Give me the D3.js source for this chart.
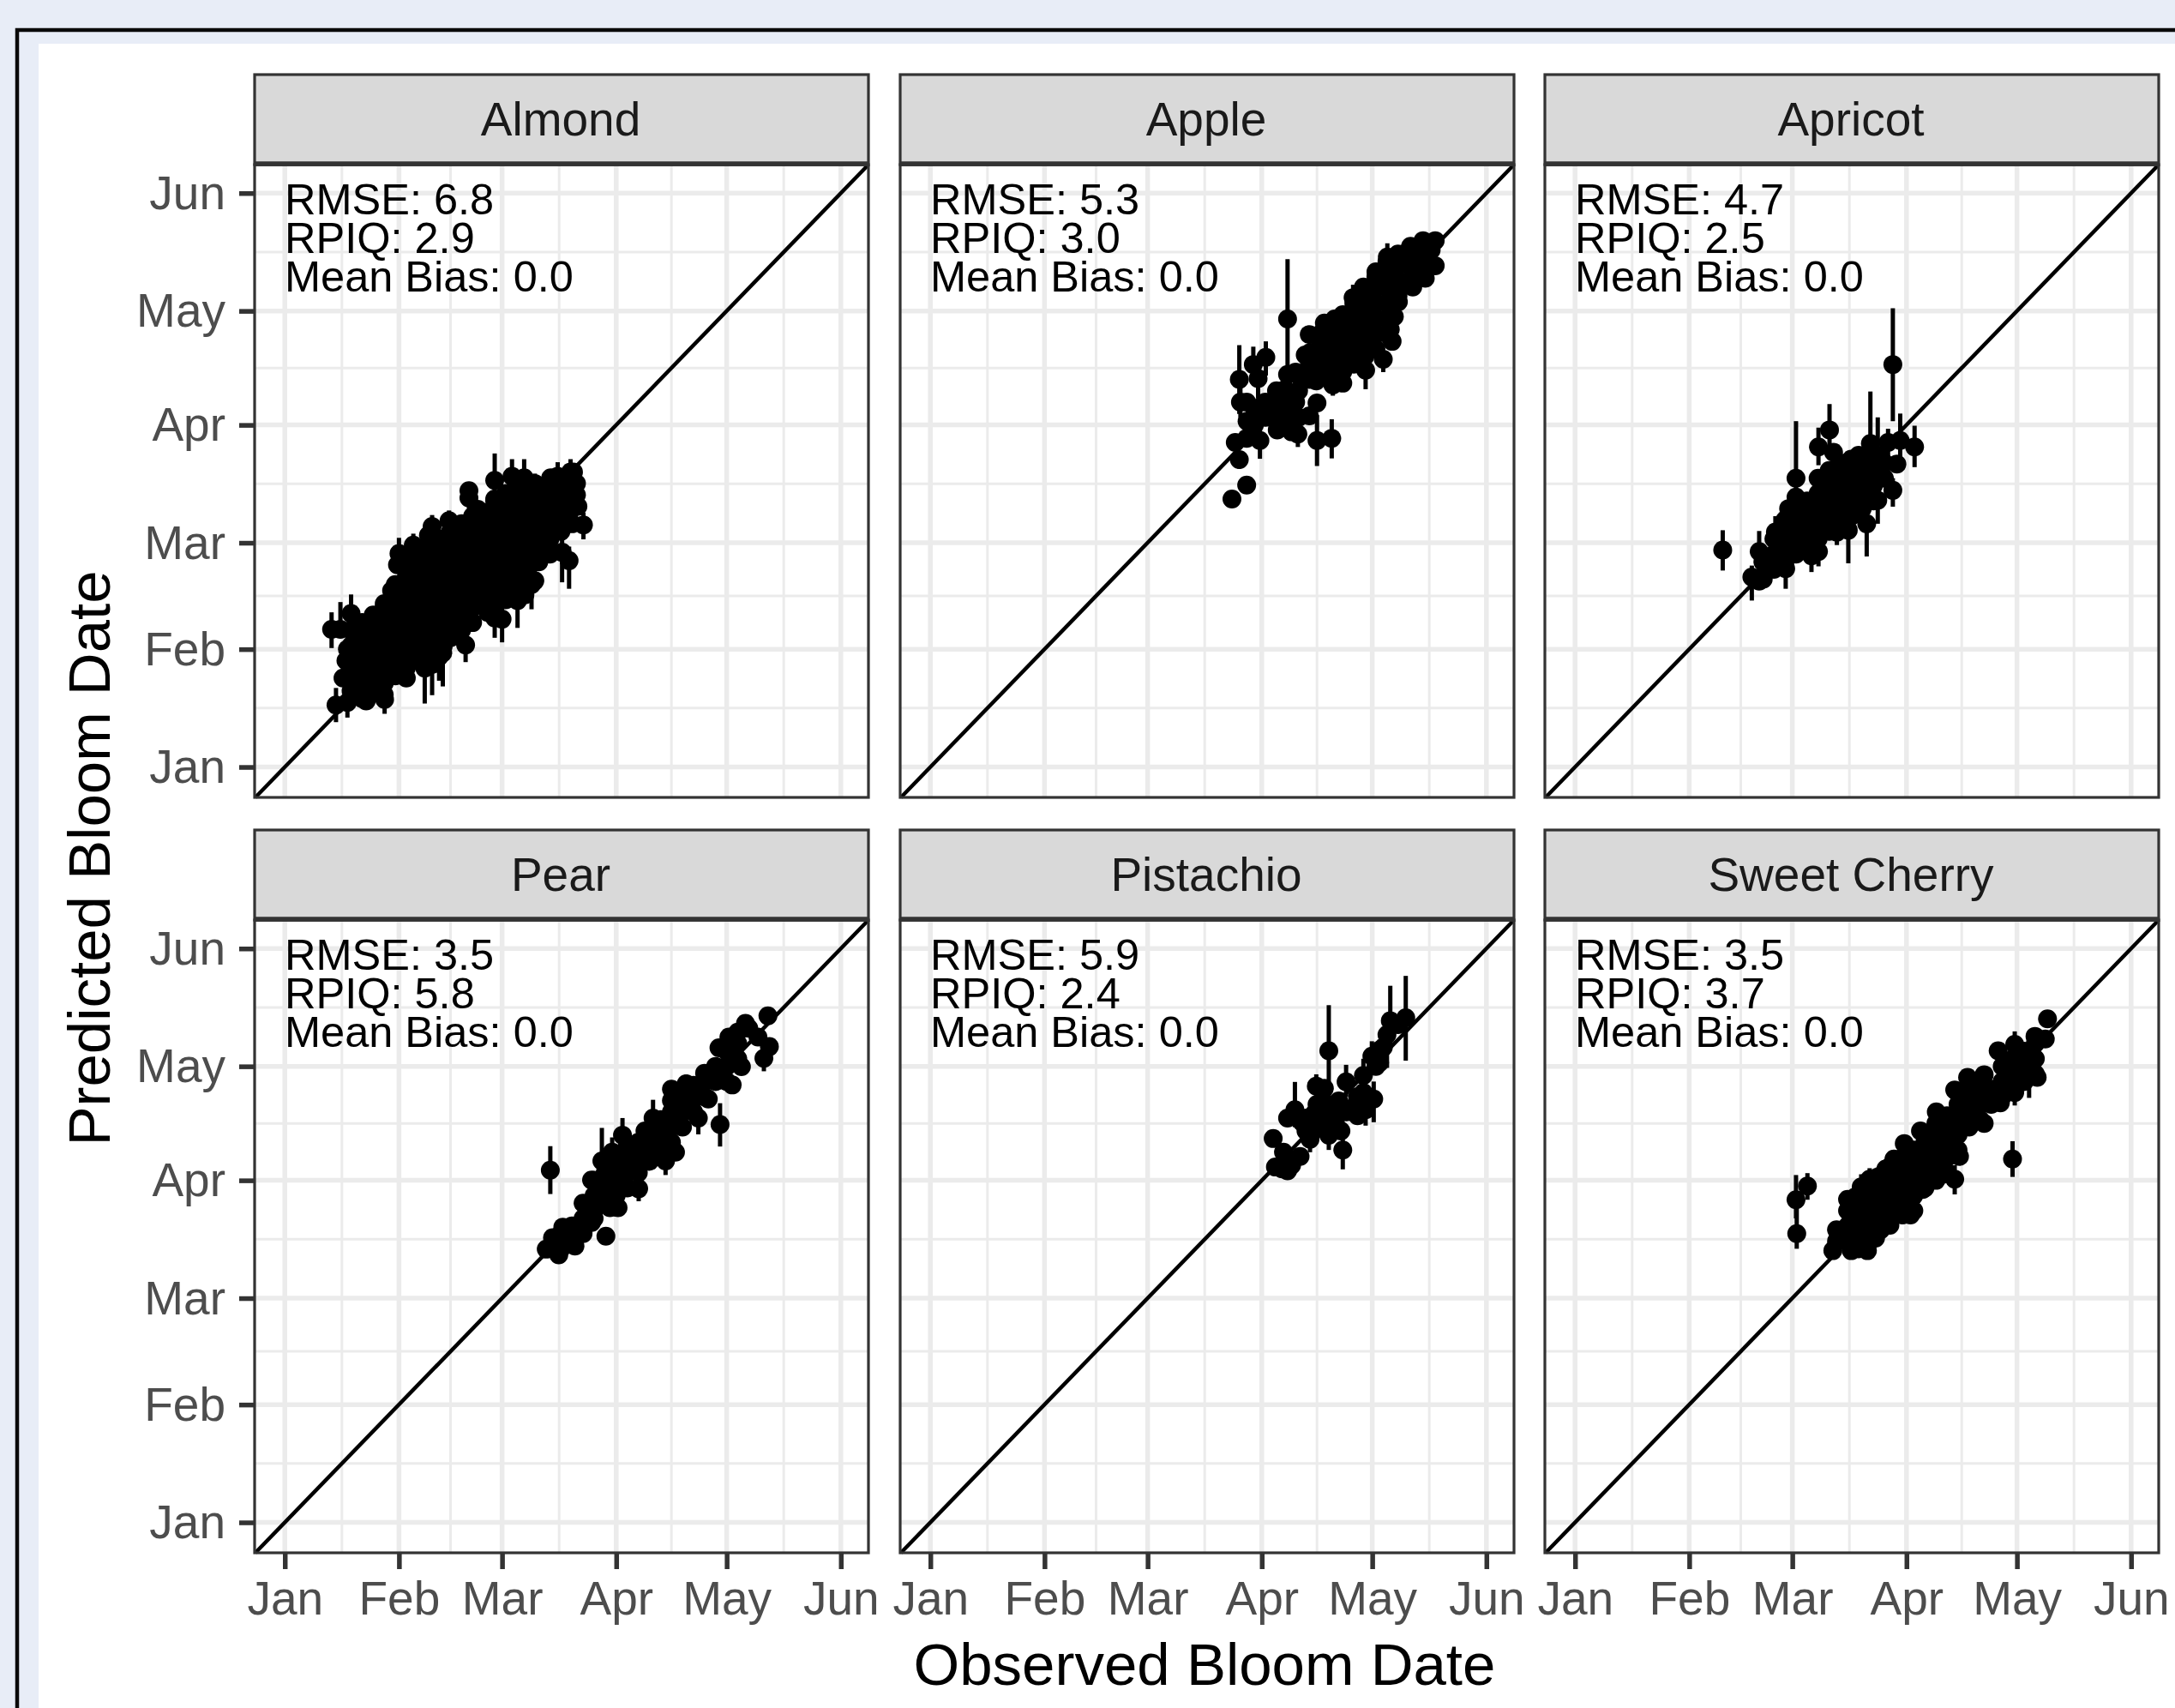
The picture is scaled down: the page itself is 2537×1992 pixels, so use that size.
<!DOCTYPE html>
<html>
<head>
<meta charset="utf-8">
<script src="https://cdnjs.cloudflare.com/ajax/libs/d3/7.8.5/d3.min.js"></script>
<style>
    html, body { margin: 0; padding: 0; background: #e8edf7; }
    svg { display: block; }
    text { font-family: "Liberation Sans", Arial, sans-serif; }
</style>
</head>
<body>
<script>
// months, as days since 1 Jan
var monthNames = ["Jan", "Feb", "Mar", "Apr", "May", "Jun"];
var monthDays = [0, 31, 59, 90, 120, 151];
var minorDays = [15.5, 45, 74.5, 105, 135.5];

var cropNames = ["Almond", "Apple", "Apricot", "Pear", "Pistachio", "Sweet Cherry"];
var rmseLabels = ["6.8", "5.3", "4.7", "3.5", "5.9", "3.5"];
var rpiqLabels = ["2.9", "3.0", "2.5", "5.8", "2.4", "3.7"];
var biasLabels = ["0.0", "0.0", "0.0", "0.0", "0.0", "0.0"];

// each row: observed, predicted, interval low, interval high (days since 1 Jan)
// these are the points that can be told apart at the edge of each cloud
var almond = [
    [12.7,36.2,31.3,40.7],[15.1,36.2,34.3,43.4],[18,40.4,34.3,45.4],[13.9,16.3,11.8,20.8],[17,17,13,21],[15.8,23.4],[17,31],[16.6,28],
    [22.1,17.4],[27.1,17.8,14,21],[33,23.4],[38,26,16.7,36],[40,27,18.9,34],[42.9,30,21.2,38],[41.9,29,22.7,36],
    [31,56.2,52,60.3],[30.6,53.2],[34.9,58.4,54,61.4],[40,63.3,59,66.3],[44.6,64.8,61,67.5],[50,72.7,68,75],[50,70.8],[52.4,67.8],
    [57,75.4,70,82.5],[57,70.5],[57,66.3],[61.7,76.5,72,81],[65,76.1,72,81],[67.9,74.6,70,77.2],[72.2,76.1,72,78.4],[74.1,76.5,72,80.2],
    [77.6,77.6,73,81],[78.4,77.6],[79.2,71.6],[79.2,74.6],[79.6,68.6],[81.1,63.7,59.9,67],[75.3,56.5,48.6,60],[77.2,54.3,46.9,58],
    [70.2,56.5],[67.9,49],[63.2,43.8,36.6,48],[67,48,41.5,52],[65.2,45.3],[59,38.9,32.8,42],[57,39.2,34,43],[55.1,40.7],[50,38.5],
    [49.1,32.1,27.6,36],[43,31.7],[27,43],[29,46.4]
];
var apple = [
    [81.9,70.5],[85.9,74.2],[83.9,80.9,78.5,83],[82.8,85.4],[85.9,86.5],[89.5,85.9,81.1,89.8],[83.9,102,92.9,111],[87.7,105.9,101,110.6],
    [91.1,107.8,103,112],[89,102.2,97,108],[85.9,96],[88.1,92.7],[84.2,96,92,100],[97,117.9,103.9,133.6],[97,103.3],[93.7,96],[92,94.9],
    [94.2,88.7],[98.1,88.2],[99.8,87.6,84.2,91],[102.9,92.4],[105,95.8],[105,85.9,79.2,92.6],[109,86.5,81.2,91.5],[102.9,113.8],
    [101.8,108.4],[99.2,103.9],[99.2,96],[96.4,99.4],[104.8,101.6],[109.3,100.5,97.7,104],[112,101],[118.2,104.4,99.4,108],
    [123,107.3,103.9,110],[125.4,112],[124.9,115.1],[107,116.8],[109.8,117.9,114,120],[114.8,123.5,119,126.9],[117.6,126.3],[121,130.3],
    [124.1,134.2,130,137.8],[130.4,137],[133.8,138.5],[137.1,138.5],[137.1,131.9],[134.4,128.6],[131,126.3],[127.1,122.4],[126,118.5],
    [86,91],[88,90],[90,95],[96,90],[100,92]
];
var apricot = [
    [40.1,57.1,51.7,62.3],[48,50,43.8,53],[50,48.9],[50,56.7,52,62.1],[54.4,61.8,56,66],[58,68],[60,76,70,91],[66.1,84.2,79.4,89.3],
    [69.1,88.7,84,95.5],[70.2,82.8],[80.2,85.1,80,98.8],[82.2,82,64,92],[77,82],[85,85.4,81,89],[88.3,85.9,81,93],[86.3,105.9,91,120.7],
    [92.2,84.2,78.9,89.8],[87.4,79.7],[86.3,72.8,68.5,76],[79.2,64,55.4,69],[82.2,70.2],[74.2,62.3,53.6,66],[71.1,61.8,58.4,65],
    [66.1,56.7,52.8,60],[64.2,55.6,51.3,59],[57.2,52.2,46.9,56],[51.1,49.4]
];
var pear = [
    [72.1,92.7,86.4,99],[71,71.9],[74.4,70.4],[72.7,74.9],[75.5,77.7],[78.8,72.7],[83.3,78.9],[87.2,75.3],[88.3,82.8],[90.5,82.8],
    [96.1,87.8,84.5,91],[103.4,95.1,91.4,99],[106.1,97.4],[83.3,90.1],[86.1,95.1,90,103.8],[88.9,97.4,93,101.3],[91.7,101.9,97,106.4],
    [97.8,103],[100,106.4,102,111.2],[105,114],[109,115.4,111,117.8],[114,118.2],[118.2,104.7,98.9,110.3],[112.3,106.4,102.1,110],[115,111.4],
    [121.5,115.1],[124,119.9],[117.9,124.9],[120.6,127.7],[125.1,131.3],[131.2,133.3],[131.6,125.2],[130.1,122.1,118.7,125],[128.5,127.7]
];
var pistachio = [
    [93.1,101],[93.7,93.5],[95.9,97.4],[98.1,94],[100.4,96.3],[97,106.4],[99,108.6,104,115.9],[100.9,105.3],[103.1,100.8,97.4,105],
    [108.2,101.9,98,106],[104.8,114.8,110,117.9],[107,114.2],[108.2,124.1,114.2,136.1],[112,98,92.9,102],[111.5,103],[110.9,110.9],
    [112.9,115.9,112,120.4],[115.4,109.7],[117.6,117.6,112,122],[120.4,111.4,105.3,116],[118.2,108.6,104.4,112],[106.5,108.6],[108.8,106.4],
    [105.4,104.1],[102,106.4],[104.2,107.5],[110,108.6],[116,112],[117.6,113.1],[119.9,122.7,118,126.6],[122.1,124.3],[124,128.3,119.6,133],
    [124.9,132,125,141.2],[129.1,132.8,121.5,143.8],[127,131],
    [95.5,93],[97,92.5],[102,103],[104,103],[106,105],[108,110],[110,105],[105,110],[113,108],[116,107],[118,112],[121,120],[122,121],[123,125]
];
var sweetCherry = [
    [60,84.9,80,91.4],[60.2,76,72,85],[63.1,88.5,84.9,91.9],[118.8,95.6,90.9,100.3],[70,71.5],[75,71.5],[79.4,71.5],[81.6,74.8],[72.2,75.5],
    [76.1,85.6],[77.7,88.3,84,91.6],[80,90.3,86,93.2],[82.2,90.9,86,93.4],[84.4,93,89,95.6],[86.6,95.6,91,98],[89.4,99.7],[93.8,103],[98.1,108],
    [103.1,113.8],[106.6,117.1],[111.1,117.8],[114.9,124.1],[119.4,125.8,121,129.2],[124.9,127.9],[128.3,132.5],[127.7,127.2],[125.5,117.1],
    [123.8,121.1],[119.4,113.1,109.7,117],[115.5,110.4],[123.3,118,111.7,122],[111.1,105],[104.4,96.3],[103.1,90.3,86.3,94],[100,91.6],
    [94.4,87.6],[91.1,80.9],[88.9,80.9],[85.5,78.2]
];

// inside the clouds the points merge, so only columns are read: observed, then predicted values
var almondInner = [
    [18,[20,24,28,32,36]],[21,[18,22,26,30,34,38]],[24,[20,24,28,32,36,40]],[27,[19,22,26,30,34,38,42]],
    [30,[24,28,32,36,40,44,48]],[33,[26,30,34,38,42,46,50,54]],[36,[28,32,36,40,44,48,52,56]],[39,[30,34,38,42,46,50,54,58,61]],
    [42,[33,36,40,44,48,52,56,60]],[45,[34,38,42,46,50,54,58,62]],[48,[36,40,44,48,52,56,60,64]],[51,[38,42,46,50,54,58,62,66]],
    [54,[44,48,52,56,60,64,67]],[57,[42,46,50,54,58,62,66,70]],[60,[44,48,52,56,60,64,68,72]],[63,[46,50,54,58,62,66,70,74]],
    [66,[49,52,56,60,64,68,72]],[69,[54,58,62,66,70,74]],[72,[56,60,64,68,72]],[75,[62,66,70,74]],[78,[64,68,72,75]]
];
var appleInner = [
    [91,[92,96]],[94,[91,95,99]],[97,[94,98]],[100,[99,103]],[103,[102,106,109]],[106,[104,108,112,114]],[109,[103,107,111,115]],
    [112,[104,108,112,116,119]],[115,[106,110,114,118,122]],[118,[108,112,116,120,124]],[121,[110,114,118,122,126,129]],
    [124,[114,118,122,126,130,133]],[127,[124,128,132,135]],[130,[128,132,136]],[133,[130,134,137]],[136,[132,136]]
];
var apricotInner = [
    [51,[50,54]],[54,[52,56,60]],[57,[54,58,62,65]],[60,[56,60,64,68,71]],[63,[58,62,66,70]],[66,[60,64,68,72,76]],
    [69,[62,66,70,74,78]],[72,[64,68,72,76,80]],[75,[66,70,74,78,81]],[78,[68,72,76,80]],[81,[70,74,78,82]],[84,[76,80]]
];
var pearInner = [
    [75,[72,76]],[78,[74,78]],[81,[76,80,84]],[84,[80,82,86,90]],[87,[84,88,92]],[90,[83,86,90,94]],[93,[88,92,96,99]],
    [96,[92,96,100]],[99,[95,98,102]],[102,[98,102,106]],[105,[100,104,108,111]],[108,[104,108,112]],[111,[108,112,115]],
    [114,[112,116]],[117,[116,120]],[120,[116,120,124]],[123,[122,126,129]],[126,[130]]
];
var sweetCherryInner = [
    [71,[74,77]],[74,[74,78,82,85]],[77,[72,76,80,84]],[80,[74,78,82,86]],[83,[77,80,84,88]],[86,[82,86,90]],[89,[81,84,88,92,96]],
    [92,[82,86,90,94,98]],[95,[88,92,96,100]],[98,[90,94,98,102,105]],[101,[92,96,100,104,107]],[104,[98,102,106,110,113]],
    [107,[104,108,112,115]],[110,[106,110,114,116]],[113,[110,114]],[116,[112,116,120]],[119,[114,118,122]],[122,[116,120,124]],[125,[118,122,126]]
];
var cropEdge = [almond, apple, apricot, pear, pistachio, sweetCherry];
var cropInner = [almondInner, appleInner, apricotInner, pearInner, [], sweetCherryInner];

var panelLefts = [297, 1050, 1802];
var panelTops = [192, 1073];
var panelWidth = 716;
var panelHeight = 738;
var stripHeight = 105;

var x = d3.scaleLinear().domain([-8.2, 158.5]).range([0, panelWidth]);
var y = d3.scaleLinear().domain([-8, 158.5]).range([panelHeight, 0]);

var svg = d3.select("body")
    .append("svg")
    .attr("width", 2537)
    .attr("height", 1992);

// page frame
svg.append("rect").attr("width", 2537).attr("height", 1992).attr("fill", "#e8edf7");
svg.append("rect").attr("x", 20).attr("y", 35).attr("width", 2600).attr("height", 2100)
    .attr("fill", "none").attr("stroke", "#0a0a0a").attr("stroke-width", 4.5);
svg.append("rect").attr("x", 45).attr("y", 51).attr("width", 2492).attr("height", 1941).attr("fill", "#fff");

cropNames.forEach(function (name, i) {
    var col = i % 3;
    var row = Math.floor(i / 3);
    var panel = svg.append("g")
        .attr("class", "panel")
        .attr("transform", "translate(" + panelLefts[col] + "," + panelTops[row] + ")");

    panel.append("rect").attr("width", panelWidth).attr("height", panelHeight).attr("fill", "#fff");

    // grid
    panel.selectAll(".vminor").data(minorDays).enter().append("line")
        .attr("x1", x).attr("x2", x).attr("y1", 0).attr("y2", panelHeight)
        .attr("stroke", "#ebebeb").attr("stroke-width", 3);
    panel.selectAll(".hminor").data(minorDays).enter().append("line")
        .attr("y1", y).attr("y2", y).attr("x1", 0).attr("x2", panelWidth)
        .attr("stroke", "#ebebeb").attr("stroke-width", 3);
    panel.selectAll(".vmajor").data(monthDays).enter().append("line")
        .attr("x1", x).attr("x2", x).attr("y1", 0).attr("y2", panelHeight)
        .attr("stroke", "#ebebeb").attr("stroke-width", 5.5);
    panel.selectAll(".hmajor").data(monthDays).enter().append("line")
        .attr("y1", y).attr("y2", y).attr("x1", 0).attr("x2", panelWidth)
        .attr("stroke", "#ebebeb").attr("stroke-width", 5.5);

    // 1:1 line
    panel.append("line")
        .attr("x1", x(-8)).attr("y1", y(-8))
        .attr("x2", x(158.5)).attr("y2", y(158.5))
        .attr("stroke", "#000").attr("stroke-width", 4.5);

    // intervals then points
    var rows = cropEdge[i].slice();
    cropInner[i].forEach(function (column) {
        column[1].forEach(function (pred) {
            rows.push([column[0], pred]);
        });
    });
    panel.selectAll(".interval").data(rows.filter(function (d) { return d.length > 2; })).enter().append("line")
        .attr("class", "interval")
        .attr("x1", function (d) { return x(d[0]); })
        .attr("x2", function (d) { return x(d[0]); })
        .attr("y1", function (d) { return y(d[2]); })
        .attr("y2", function (d) { return y(d[3]); })
        .attr("stroke", "#000").attr("stroke-width", 5);
    panel.selectAll(".point").data(rows).enter().append("circle")
        .attr("class", "point")
        .attr("cx", function (d) { return x(d[0]); })
        .attr("cy", function (d) { return y(d[1]); })
        .attr("r", 11)
        .attr("fill", "#000");

    // stats
    var notes = panel.append("g").attr("font-size", 50.5).attr("fill", "#000");
    notes.append("text").attr("x", 35).attr("y", 58).text("RMSE: " + rmseLabels[i]);
    notes.append("text").attr("x", 35).attr("y", 103).text("RPIQ: " + rpiqLabels[i]);
    notes.append("text").attr("x", 35).attr("y", 148).text("Mean Bias: " + biasLabels[i]);

    panel.append("rect").attr("width", panelWidth).attr("height", panelHeight)
        .attr("fill", "none").attr("stroke", "#333").attr("stroke-width", 3.2);

    // strip
    panel.append("rect")
        .attr("y", -stripHeight).attr("width", panelWidth).attr("height", stripHeight)
        .attr("fill", "#d9d9d9").attr("stroke", "#333").attr("stroke-width", 3.2);
    panel.append("line")
        .attr("x1", 0).attr("x2", panelWidth).attr("y1", -1).attr("y2", -1)
        .attr("stroke", "#333").attr("stroke-width", 5.5);
    panel.append("text")
        .attr("x", panelWidth / 2 - 1).attr("y", -34)
        .attr("text-anchor", "middle").attr("font-size", 55).attr("fill", "#1a1a1a")
        .text(name);

    // axes, only on the outside panels
    if (row == 1) {
        var xAxis = panel.append("g")
            .attr("transform", "translate(0," + panelHeight + ")")
            .call(d3.axisBottom(x).tickValues(monthDays).tickSize(19).tickPadding(14)
                .tickFormat(function (d, k) { return monthNames[k]; }));
        styleAxis(xAxis);
    }
    if (col == 0) {
        var yAxis = panel.append("g")
            .call(d3.axisLeft(y).tickValues(monthDays).tickSize(18).tickPadding(16)
                .tickFormat(function (d, k) { return monthNames[k]; }));
        styleAxis(yAxis);
        yAxis.selectAll("text").attr("dy", "0.33em");
    }
});

function styleAxis(axis) {
    axis.select(".domain").remove();
    axis.selectAll("line").attr("stroke", "#333").attr("stroke-width", 5.5);
    axis.selectAll("text")
        .attr("fill", "#4d4d4d")
        .style("font-family", '"Liberation Sans", Arial, sans-serif')
        .style("font-size", "55px");
}

svg.append("text")
    .attr("x", 1405).attr("y", 1965)
    .attr("text-anchor", "middle").attr("font-size", 69).attr("fill", "#000")
    .text("Observed Bloom Date");
svg.append("text")
    .attr("transform", "translate(128,1001) rotate(-90)")
    .attr("text-anchor", "middle").attr("font-size", 69).attr("fill", "#000")
    .text("Predicted Bloom Date");
</script>
</body>
</html>
